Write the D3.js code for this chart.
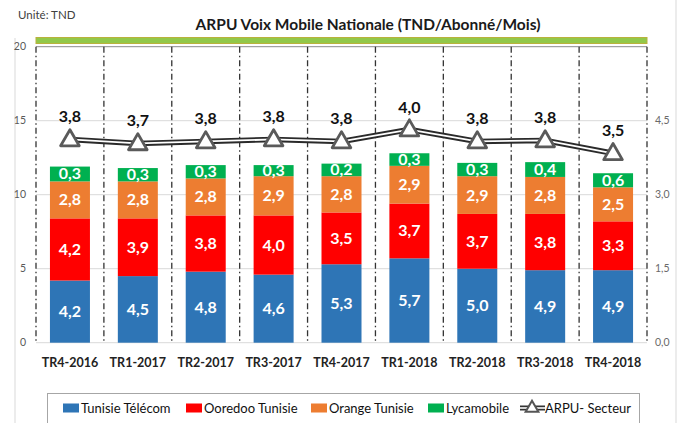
<!DOCTYPE html>
<html><head><meta charset="utf-8">
<script src="https://cdn.jsdelivr.net/npm/d3@7"></script>
<style>body{margin:0;background:#fff}svg{display:block;font-family:Lato,"Open Sans",sans-serif}</style>
</head><body><svg id="c" width="684" height="423"></svg>
<script>
const categories = ["TR4-2016","TR1-2017","TR2-2017","TR3-2017","TR4-2017","TR1-2018","TR2-2018","TR3-2018","TR4-2018"];
const tunisieTelecom = [4.2,4.5,4.8,4.6,5.3,5.7,5.0,4.9,4.9];
const ooredooTunisie = [4.2,3.9,3.8,4.0,3.5,3.7,3.7,3.8,3.3];
const orangeTunisie = [2.5,2.5,2.5,2.65,2.45,2.55,2.55,2.5,2.3];
const orangeLabels = ["2,8","2,8","2,8","2,9","2,8","2,9","2,9","2,8","2,5"];
const lycamobile = [1.0,0.9,0.9,0.75,0.85,0.85,0.9,1.0,0.95];
const lycamobileLabels = ["0,3","0,3","0,3","0,3","0,2","0,3","0,3","0,4","0,6"];
const arpuSecteur = [4.12,4.04,4.08,4.12,4.08,4.32,4.08,4.10,3.84];
const arpuLabels = ["3,8","3,7","3,8","3,8","3,8","4,0","3,8","3,8","3,5"];
const leftTicks = [0,5,10,15,20];
const rightTicks = [0,1.5,3,4.5];
const seriesNames = ["Tunisie Télécom","Ooredoo Tunisie","Orange Tunisie","Lycamobile"];
const seriesColors = ["#2E75B6","#FF0000","#ED7D31","#00B050"];

const fmt = v => d3.format(".1f")(v).replace(".", ",");
const svg = d3.select("#c");
const L = 36, R = 647, T = 46.7, B = 342.7;

const x = d3.scaleBand().domain(categories).range([L, R]).padding(0);
const y = d3.scaleLinear().domain([0, 20]).range([B, T]);
const y2 = d3.scaleLinear().domain([0, 6]).range([B, T]);

// outer frame lines
svg.append("line").attr("x1",15).attr("x2",15).attr("y1",38).attr("y2",423).attr("stroke","#d9d9d9");
svg.append("line").attr("x1",676).attr("x2",676).attr("y1",0).attr("y2",423).attr("stroke","#d9d9d9");

svg.append("text").attr("x",18).attr("y",19).attr("font-size",11.5).attr("fill","#404040").text("Unité: TND");
svg.append("text").attr("x",368).attr("y",30).attr("text-anchor","middle").attr("font-size",15.5)
  .attr("font-weight","bold").attr("fill","#1a1a1a").text("ARPU Voix Mobile Nationale (TND/Abonné/Mois)");
svg.append("rect").attr("x",L).attr("y",37.5).attr("width",R-L).attr("height",6)
  .attr("fill","#92C84A").attr("stroke","#B9B23C").attr("stroke-width",1);

// gridlines
svg.append("g").selectAll("line").data(leftTicks).join("line")
  .attr("x1",L).attr("x2",R).attr("y1",d=>y(d)).attr("y2",d=>y(d))
  .attr("stroke", d => d===20 ? "#8c8c8c" : "#d9d9d9").attr("stroke-width",1);

// left axis labels
svg.append("g").selectAll("text").data(leftTicks).join("text")
  .attr("x",26).attr("y",d=>y(d)+3.5).attr("text-anchor","end").attr("font-size",10.5).attr("fill","#595959").text(d=>d);
// right axis labels
svg.append("g").selectAll("text").data(rightTicks).join("text")
  .attr("x",655).attr("y",d=>y2(d)+3.5).attr("font-size",10.5).attr("fill","#6a6a6a").text(d=>d3.format(".1f")(d).replace(".",","));

// dash-dot dividers
const bounds = categories.map(c => x(c)).concat([R]);
svg.append("g").selectAll("line").data(bounds).join("line")
  .attr("x1",d=>d).attr("x2",d=>d).attr("y1",T).attr("y2",B)
  .attr("stroke","#333").attr("stroke-width",1.3).attr("stroke-dasharray","6,3,1.5,3");

// stacked bars
const rows = categories.map((c,i)=>({cat:c, s0:tunisieTelecom[i], s1:ooredooTunisie[i], s2:orangeTunisie[i], s3:lycamobile[i]}));
const keys = ["s0","s1","s2","s3"];
const stack = d3.stack().keys(keys)(rows);
const labelSets = [tunisieTelecom.map(fmt), ooredooTunisie.map(fmt), orangeLabels, lycamobileLabels];
const bw = 40;
stack.forEach((layer, li) => {
  const g = svg.append("g");
  g.selectAll("rect").data(layer).join("rect")
    .attr("x", d => x(d.data.cat) + x.bandwidth()/2 - bw/2)
    .attr("width", bw)
    .attr("y", d => y(d[1]))
    .attr("height", d => y(d[0]) - y(d[1]))
    .attr("fill", seriesColors[li]);
  g.selectAll("text").data(layer).join("text")
    .attr("x", d => x(d.data.cat) + x.bandwidth()/2)
    .attr("y", d => (y(d[0]) + y(d[1]))/2 + 5.5)
    .attr("text-anchor","middle").attr("font-size",16).attr("font-weight","bold").attr("fill","#fff")
    .text((d,i) => labelSets[li][i]);
});

// line
const pts = categories.map((c,i)=>[x(c)+x.bandwidth()/2, y2(arpuSecteur[i])]);
const line = d3.line();
svg.append("path").attr("d", line(pts)).attr("fill","none").attr("stroke","#2a2a2a").attr("stroke-width",5.5).attr("stroke-linejoin","round");
svg.append("path").attr("d", line(pts)).attr("fill","none").attr("stroke","#fff").attr("stroke-width",1.8).attr("stroke-linejoin","round");
const tri = d3.symbol().type(d3.symbolTriangle).size(150);
svg.append("g").selectAll("path").data(pts).join("path")
  .attr("transform", d => `translate(${d[0]},${d[1]+1})`).attr("d", tri())
  .attr("fill","#fff").attr("stroke","#5a5a5a").attr("stroke-width",2.8).attr("stroke-linejoin","round");
svg.append("g").selectAll("text").data(pts).join("text")
  .attr("x", d=>d[0]).attr("y", d=>d[1]-17)
  .attr("text-anchor","middle").attr("font-size",16).attr("font-weight","bold").attr("fill","#111")
  .text((d,i)=>arpuLabels[i]);

// x labels
svg.append("g").selectAll("text").data(categories).join("text")
  .attr("x", c => x(c)+x.bandwidth()/2).attr("y", 367)
  .attr("text-anchor","middle").attr("font-size",12.5).attr("font-weight","bold").attr("fill","#222").text(c=>c);

// legend
const lg = svg.append("g");
lg.append("rect").attr("x",47.5).attr("y",393.5).attr("width",592).attr("height",40).attr("fill","none").attr("stroke","#a6a6a6");
const legX = [63,186,311,428];
seriesNames.forEach((n,i)=>{
  lg.append("rect").attr("x",legX[i]).attr("y",403.5).attr("width",16).attr("height",9).attr("fill",seriesColors[i]);
  lg.append("text").attr("x",legX[i]+18).attr("y",412.5).attr("font-size",13).attr("fill","#111").text(n);
});
lg.append("line").attr("x1",520).attr("x2",545).attr("y1",408).attr("y2",408).attr("stroke","#333").attr("stroke-width",5);
lg.append("line").attr("x1",520).attr("x2",545).attr("y1",408).attr("y2",408).attr("stroke","#fff").attr("stroke-width",1.6);
lg.append("path").attr("transform","translate(532,408)").attr("d", d3.symbol().type(d3.symbolTriangle).size(70)())
  .attr("fill","#fff").attr("stroke","#555").attr("stroke-width",2);
lg.append("text").attr("x",545).attr("y",412.5).attr("font-size",13).attr("fill","#111").text("ARPU- Secteur");
</script></body></html>
